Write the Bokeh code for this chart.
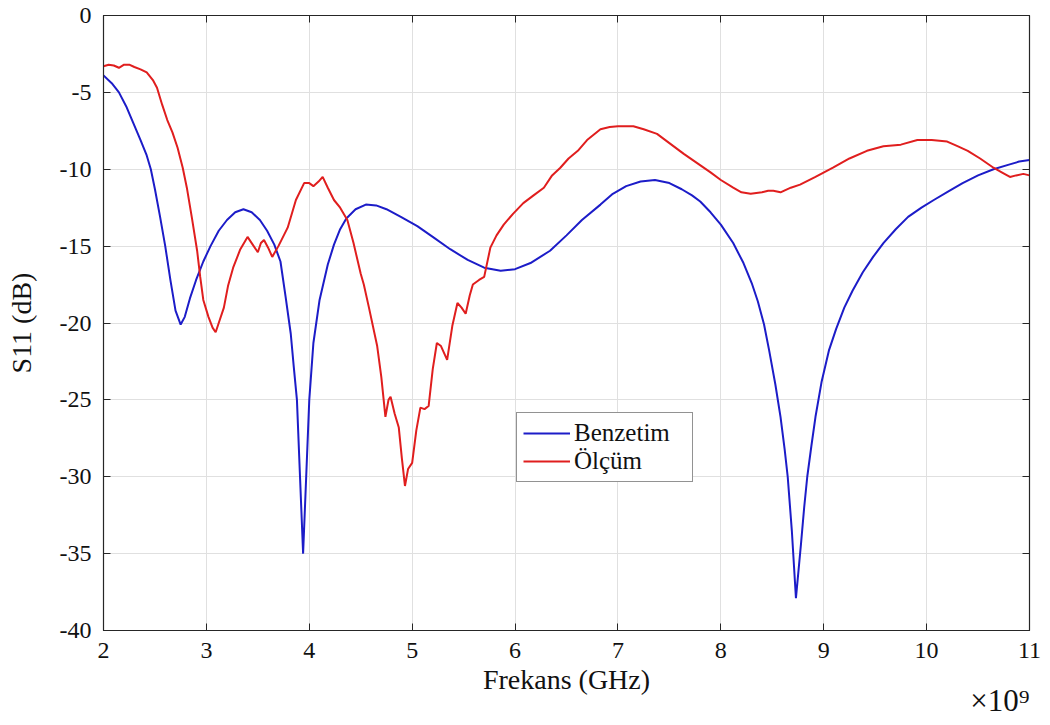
from bokeh.plotting import figure
from bokeh.models import (FixedTicker, LinearAxis, Legend, LegendItem, Title, Range1d)
from bokeh.embed import file_html
from bokeh.resources import INLINE

# ---- data (frequency in GHz, as read on the ×10^9 Hz axis) ----
benzetim_x = [2.00, 2.08, 2.15, 2.22, 2.29, 2.36, 2.42, 2.46, 2.50, 2.55, 2.60, 2.65, 2.70,
              2.75, 2.79, 2.84, 2.90, 2.97, 3.04, 3.12, 3.20, 3.28, 3.36, 3.44, 3.52, 3.59,
              3.66, 3.72, 3.77, 3.82, 3.85, 3.88, 3.91, 3.94, 3.97, 4.00, 4.04, 4.10, 4.18,
              4.24, 4.30, 4.36, 4.45, 4.55, 4.65, 4.75, 4.89, 5.05, 5.20, 5.37, 5.54, 5.70,
              5.86, 6.00, 6.15, 6.34, 6.50, 6.65, 6.83, 6.95, 7.08, 7.22, 7.36, 7.50, 7.62,
              7.72, 7.80, 7.90, 8.00, 8.12, 8.22, 8.30, 8.36, 8.42, 8.47, 8.53, 8.58, 8.62,
              8.65, 8.69, 8.73, 8.78, 8.81, 8.84, 8.88, 8.92, 8.98, 9.05, 9.12, 9.20, 9.28,
              9.38, 9.48, 9.58, 9.70, 9.82, 9.95, 10.07, 10.22, 10.35, 10.50, 10.65, 10.80,
              10.90, 11.00]
benzetim_y = [-3.9, -4.4, -5.0, -5.9, -7.0, -8.1, -9.1, -10.0, -11.3, -13.1, -15.0, -17.2, -19.2,
              -20.1, -19.6, -18.4, -17.2, -16.0, -15.0, -14.0, -13.3, -12.8, -12.6, -12.8, -13.3, -14.0,
              -14.9, -16.0, -18.3, -20.7, -22.9, -25.0, -30.0, -35.0, -30.0, -25.0, -21.3, -18.5, -16.2,
              -14.9, -13.9, -13.2, -12.6, -12.3, -12.35, -12.6, -13.1, -13.7, -14.4, -15.2, -15.9, -16.4,
              -16.6, -16.5, -16.1, -15.3, -14.3, -13.3, -12.3, -11.6, -11.1, -10.8, -10.7, -10.9, -11.3,
              -11.7, -12.1, -12.8, -13.6, -14.8, -16.1, -17.4, -18.6, -20.1, -21.8, -24.0, -26.1, -28.2,
              -30.0, -33.5, -37.9, -34.3, -32.0, -30.0, -28.0, -26.1, -23.8, -21.8, -20.4, -19.0, -17.9,
              -16.7, -15.7, -14.8, -13.9, -13.1, -12.5, -12.0, -11.4, -10.9, -10.4, -10.0, -9.7,
              -9.5, -9.4]

olcum_x = [2.00, 2.05, 2.10, 2.15, 2.20, 2.25, 2.30, 2.36, 2.42, 2.48, 2.52, 2.57, 2.62,
           2.67, 2.72, 2.77, 2.81, 2.86, 2.91, 2.94, 2.97, 3.02, 3.06, 3.09, 3.12, 3.17,
           3.21, 3.26, 3.33, 3.40, 3.45, 3.50, 3.53, 3.56, 3.60, 3.64, 3.70, 3.79, 3.87,
           3.95, 4.00, 4.04, 4.09, 4.13, 4.18, 4.24, 4.30, 4.37, 4.43, 4.50, 4.53, 4.58,
           4.66, 4.70, 4.74, 4.77, 4.79, 4.83, 4.87, 4.90, 4.93, 4.96, 5.00, 5.04, 5.08,
           5.12, 5.16, 5.20, 5.24, 5.28, 5.34, 5.39, 5.44, 5.48, 5.52, 5.56, 5.59, 5.65,
           5.70, 5.76, 5.82, 5.89, 5.98, 6.08, 6.18, 6.28, 6.36, 6.44, 6.52, 6.61, 6.70,
           6.83, 6.92, 7.00, 7.15, 7.25, 7.38, 7.50, 7.64, 7.77, 7.90, 8.00, 8.12, 8.20,
           8.29, 8.40, 8.46, 8.51, 8.58, 8.68, 8.77, 8.92, 9.09, 9.25, 9.42, 9.58, 9.75,
           9.91, 10.05, 10.20, 10.30, 10.40, 10.52, 10.65, 10.73, 10.81, 10.87, 10.94, 11.00]
olcum_y = [-3.3, -3.2, -3.25, -3.4, -3.2, -3.2, -3.35, -3.5, -3.7, -4.2, -4.7, -5.8, -6.8,
           -7.6, -8.6, -9.9, -11.2, -13.2, -15.3, -17.0, -18.5, -19.6, -20.3, -20.6, -20.0, -19.0,
           -17.6, -16.4, -15.2, -14.4, -14.9, -15.4, -14.8, -14.6, -15.1, -15.7, -15.0, -13.8, -12.0,
           -10.9, -10.9, -11.1, -10.8, -10.5, -11.2, -12.0, -12.5, -13.3, -14.8, -16.8, -17.5, -19.0,
           -21.5, -23.5, -26.1, -25.0, -24.8, -25.9, -26.8, -28.8, -30.6, -29.5, -29.1, -27.0, -25.5,
           -25.6, -25.4, -23.0, -21.3, -21.5, -22.4, -20.2, -18.7, -19.0, -19.4, -18.2, -17.5, -17.2,
           -17.0, -15.1, -14.3, -13.6, -12.9, -12.2, -11.7, -11.2, -10.4, -9.9, -9.3, -8.8, -8.1,
           -7.4, -7.25, -7.2, -7.2, -7.4, -7.7, -8.3, -9.0, -9.6, -10.2, -10.7, -11.2, -11.5,
           -11.6, -11.5, -11.4, -11.4, -11.5, -11.2, -11.0, -10.5, -9.9, -9.3, -8.8, -8.5, -8.4,
           -8.1, -8.1, -8.2, -8.5, -8.8, -9.3, -9.9, -10.2, -10.5, -10.4, -10.3, -10.4]

x_ticks = [2, 3, 4, 5, 6, 7, 8, 9, 10, 11]
y_ticks = [-40, -35, -30, -25, -20, -15, -10, -5, 0]
y_tick_labels = ["-40", "-35", "-30", "-25", "-20", "-15", "-10", "-5", "0"]
series_names = ["Benzetim", "Ölçüm"]
x_label = "Frekans (GHz)"
y_label = "S11 (dB)"
exponent_note = "×10⁹"

FONT = "Liberation Serif"
AXC = "#262626"
TXT = "#111111"

p = figure(width=1050, height=725, output_backend="svg", toolbar_location=None,
           x_range=Range1d(2, 11), y_range=Range1d(-40, 0),
           min_border_left=103, min_border_right=21, min_border_top=15,
           min_border_bottom=95)
p.background_fill_color = "white"
p.border_fill_color = "white"
p.outline_line_color = AXC
p.outline_line_width = 1.2

for ax, ticks in ((p.xaxis[0], x_ticks), (p.yaxis[0], y_ticks)):
    ax.ticker = FixedTicker(ticks=ticks)
    ax.axis_line_color = AXC
    ax.major_tick_line_color = AXC
    ax.major_tick_in = 7
    ax.major_tick_out = 0
    ax.minor_tick_line_color = None
    ax.major_label_text_font = FONT
    ax.major_label_text_font_size = "24px"
    ax.major_label_text_color = TXT
    ax.axis_label_text_font = FONT
    ax.axis_label_text_font_size = "28px"
    ax.axis_label_text_font_style = "normal"
    ax.axis_label_text_color = TXT

p.xaxis[0].axis_label = x_label
p.xaxis[0].major_label_standoff = 12
p.xaxis[0].axis_label_standoff = 3
p.yaxis[0].axis_label = y_label
p.yaxis[0].major_label_standoff = 12
p.yaxis[0].axis_label_standoff = 20
p.yaxis[0].major_label_overrides = {float(t): s for t, s in zip(y_ticks, y_tick_labels)}

# mirrored ticks on top and right (MATLAB box), without labels
for loc, ticks in (("above", x_ticks), ("right", y_ticks)):
    a = LinearAxis(ticker=FixedTicker(ticks=ticks), axis_line_color=AXC,
                   major_tick_line_color=AXC, major_tick_in=7, major_tick_out=0,
                   minor_tick_line_color=None, major_label_standoff=0,
                   major_label_text_font_size="10px",
                   major_label_overrides={float(t): "" for t in ticks})
    p.add_layout(a, loc)

p.xgrid.ticker = FixedTicker(ticks=x_ticks)
p.ygrid.ticker = FixedTicker(ticks=y_ticks)
p.grid.grid_line_color = "#e0e0e0"
p.grid.grid_line_width = 1

r1 = p.line(benzetim_x, benzetim_y, line_color="#1c1cc8", line_width=2)
r2 = p.line(olcum_x, olcum_y, line_color="#e01e1e", line_width=2)

legend = Legend(items=[LegendItem(label=series_names[0], renderers=[r1]),
                       LegendItem(label=series_names[1], renderers=[r2])],
                location=(413, 148))
legend.label_text_font = FONT
legend.label_text_font_size = "25px"
legend.label_text_color = TXT
legend.border_line_color = AXC
legend.border_line_width = 1.2
legend.glyph_width = 47
legend.label_height = 24
legend.glyph_height = 24
legend.label_width = 112
legend.spacing = 0
legend.padding = 6
legend.margin = 0
legend.label_standoff = 4
legend.background_fill_alpha = 1
p.add_layout(legend, "center")

# MATLAB exponent note in the bottom panel, right-aligned under the axis end
p.add_layout(Title(text=exponent_note, align="right", standoff=-40,
                   text_font=FONT, text_font_size="31px",
                   text_font_style="normal", text_color=TXT), "below")

open("out.html", "w").write(file_html(p, INLINE))
